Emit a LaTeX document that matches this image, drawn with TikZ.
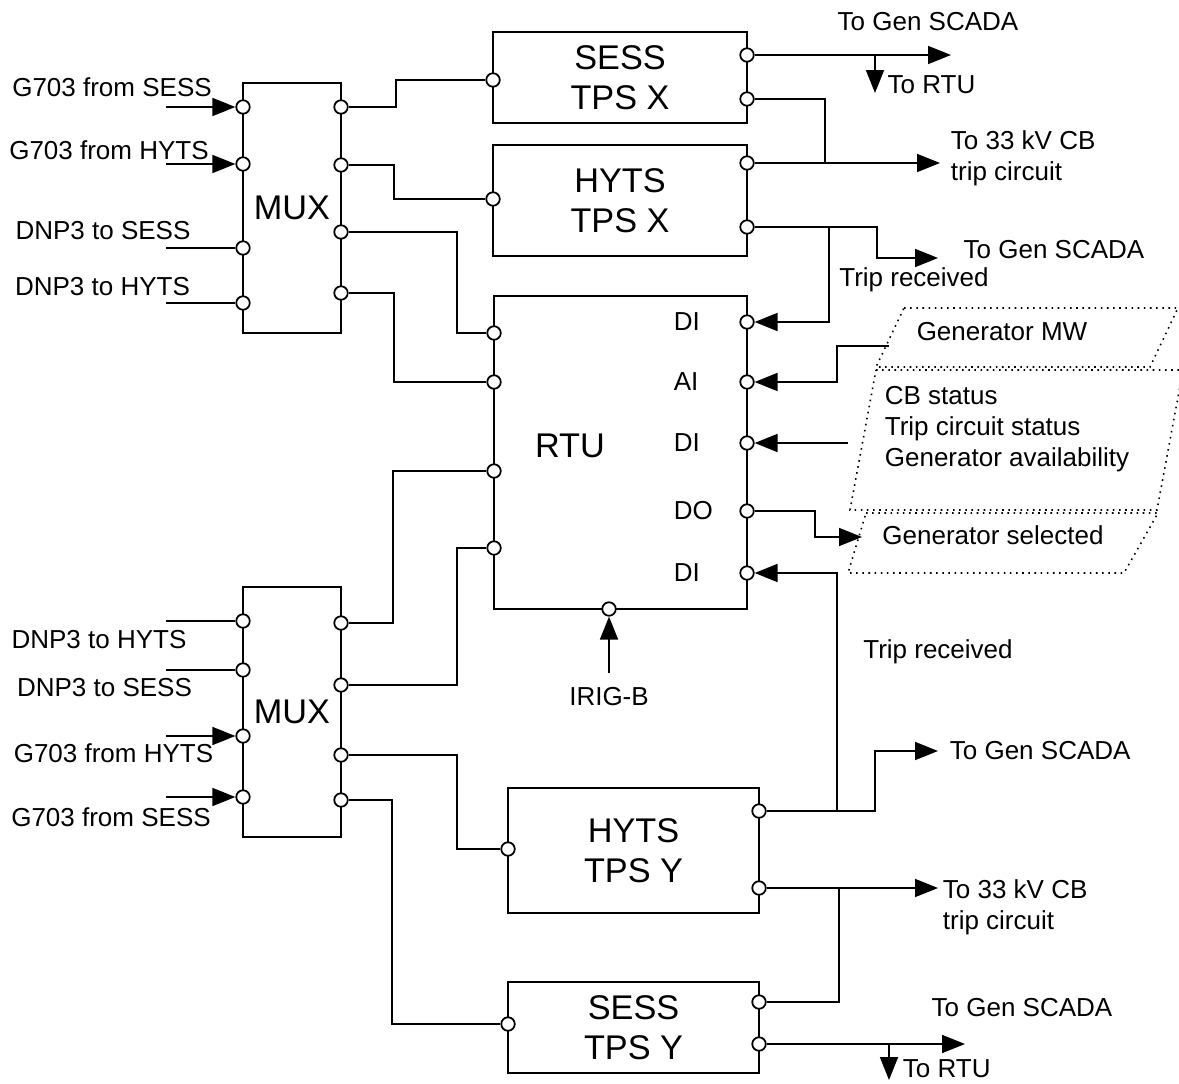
\documentclass[tikz,border=0pt]{standalone}
\usepackage{fontspec}
\setmainfont{Liberation Sans}
\usetikzlibrary{arrows.meta}

\newcommand{\lblfont}{\fontsize{14.8pt}{17.6pt}\selectfont}
\newcommand{\boxfont}{\fontsize{19.5pt}{23pt}\selectfont}

\begin{document}
\begin{tikzpicture}[x=0.02cm, y=-0.02cm, line width=1pt,
    >={Triangle[length=0.46cm, width=0.36cm]},
    every node/.style={font=\lblfont},
    unit/.style={draw, rectangle, inner sep=0pt, font=\boxfont, align=center},
    port/.style={circle, draw, fill=white, inner sep=0pt, minimum size=0.27cm},
    sig/.style={inner sep=0pt},
    infobox/.style={line width=0.9pt, dash pattern=on 0.9pt off 2.6pt}]
	\useasboundingbox (0,0) rectangle (1179,1084);

	% === 设备方框 ===
	\node[unit, minimum width=1.96cm, minimum height=5cm] (muxa) at (292,208) {MUX};
	\node[unit, minimum width=1.96cm, minimum height=5cm] (muxb) at (292,712) {MUX};
	\node[unit, minimum width=5.08cm, minimum height=1.82cm] (tpsxs) at (620,77.5) {SESS\\TPS X};
	\node[unit, minimum width=5.08cm, minimum height=2.22cm] (tpsxh) at (620,200.5) {HYTS\\TPS X};
	\node[unit, minimum width=5.06cm, minimum height=6.26cm] (rtu) at (620.5,452.5) {};
	\node[font=\boxfont] (rtulbl) at (570,446) {RTU};
	\node[unit, minimum width=5.02cm, minimum height=2.5cm] (tpsyh) at (633.5,850.5) {HYTS\\TPS Y};
	\node[unit, minimum width=5.02cm, minimum height=1.82cm] (tpsys) at (633.5,1027.5) {SESS\\TPS Y};

	% 端口 (上 MUX)
	\node[port] (muxa-l1) at (243,107) {};
	\node[port] (muxa-l2) at (243,164) {};
	\node[port] (muxa-l3) at (243,248) {};
	\node[port] (muxa-l4) at (243,303) {};
	\node[port] (muxa-r1) at (341,107) {};
	\node[port] (muxa-r2) at (341,165) {};
	\node[port] (muxa-r3) at (341,232) {};
	\node[port] (muxa-r4) at (341,293) {};
	% 端口 (下 MUX)
	\node[port] (muxb-l1) at (243,621) {};
	\node[port] (muxb-l2) at (243,670) {};
	\node[port] (muxb-l3) at (243,736) {};
	\node[port] (muxb-l4) at (243,797) {};
	\node[port] (muxb-r1) at (341,623) {};
	\node[port] (muxb-r2) at (341,685) {};
	\node[port] (muxb-r3) at (341,755) {};
	\node[port] (muxb-r4) at (341,800) {};
	% 端口 (TPS)
	\node[port] (tpsxs-l) at (493,80) {};
	\node[port] (tpsxs-r1) at (747,55) {};
	\node[port] (tpsxs-r2) at (747,99) {};
	\node[port] (tpsxh-l) at (493,199) {};
	\node[port] (tpsxh-r1) at (747,163) {};
	\node[port] (tpsxh-r2) at (747,227) {};
	\node[port] (tpsyh-l) at (508,849) {};
	\node[port] (tpsyh-r1) at (759,811) {};
	\node[port] (tpsyh-r2) at (759,888) {};
	\node[port] (tpsys-l) at (508,1024) {};
	\node[port] (tpsys-r1) at (759,1002) {};
	\node[port] (tpsys-r2) at (759,1044) {};
	% 端口 (RTU)
	\node[port] (rtu-l1) at (494,333) {};
	\node[port] (rtu-l2) at (494,382) {};
	\node[port] (rtu-l3) at (494,471) {};
	\node[port] (rtu-l4) at (494,548) {};
	\node[port] (rtu-r1) at (747,322) {};
	\node[port] (rtu-r2) at (747,382) {};
	\node[port] (rtu-r3) at (747,443) {};
	\node[port] (rtu-r4) at (747,511) {};
	\node[port] (rtu-r5) at (747,573) {};
	\node[port] (rtu-b) at (609,609) {};
	\node[sig, anchor=west] (rtu-t1) at (673,322) {DI};
	\node[sig, anchor=west] (rtu-t2) at (673,382) {AI};
	\node[sig, anchor=west] (rtu-t3) at (673,443) {DI};
	\node[sig, anchor=west] (rtu-t4) at (673,511) {DO};
	\node[sig, anchor=west] (rtu-t5) at (673,573) {DI};

	% === MUX 输入 ===
	\coordinate (ina1) at (166,107);
	\coordinate (ina2) at (166,164);
	\coordinate (ina3) at (166,248);
	\coordinate (ina4) at (166,303);
	\coordinate (inb1) at (166,621);
	\coordinate (inb2) at (166,670);
	\coordinate (inb3) at (166,736);
	\coordinate (inb4) at (166,797);
	\draw[->] (ina1) -- (muxa-l1);
	\draw[->] (ina2) -- (muxa-l2);
	\draw (ina3) -- (muxa-l3);
	\draw (ina4) -- (muxa-l4);
	\draw (inb1) -- (muxb-l1);
	\draw (inb2) -- (muxb-l2);
	\draw[->] (inb3) -- (muxb-l3);
	\draw[->] (inb4) -- (muxb-l4);
	\node (lbla1) at (112,87) {G703 from SESS};
	\node (lbla2) at (109,150) {G703 from HYTS};
	\node (lbla3) at (103,231) {DNP3 to SESS};
	\node (lbla4) at (102.5,287) {DNP3 to HYTS};
	\node (lblb1) at (99,640) {DNP3 to HYTS};
	\node (lblb2) at (104.5,688) {DNP3 to SESS};
	\node (lblb3) at (113.5,753) {G703 from HYTS};
	\node (lblb4) at (111,817) {G703 from SESS};

	% === MUX 到 TPS / RTU ===
	\draw (muxa-r1) -- ++(55,0) |- (tpsxs-l);
	\draw (muxa-r2) -- ++(53,0) |- (tpsxh-l);
	\draw (muxa-r3) -- ++(116,0) |- (rtu-l1);
	\draw (muxa-r4) -- ++(53,0) |- (rtu-l2);
	\draw (muxb-r1) -- ++(52,0) |- (rtu-l3);
	\draw (muxb-r2) -- ++(116,0) |- (rtu-l4);
	\draw (muxb-r3) -- ++(116,0) |- (tpsyh-l);
	\draw (muxb-r4) -- ++(51,0) |- (tpsys-l);

	% === TPS X 输出 ===
	\coordinate (scx1) at (951,55);
	\coordinate (rtux) at (875,93);
	\draw[->] (tpsxs-r1) -- (scx1);
	\draw[->] (tpsxs-r1 -| rtux) -- (rtux);
	\coordinate (cbx) at (940,163);
	\coordinate (jcbx) at (825,163);
	\draw[->] (tpsxh-r1) -- (cbx);
	\draw (tpsxs-r2) -| (jcbx);
	\coordinate (scx2) at (938,258);
	\coordinate (jtrx) at (829,227);
	\draw[->] (tpsxh-r2) -- ++(130,0) |- (scx2);
	\draw[->] (jtrx) |- (rtu-r1);
	\node (gsx1) at (928,22) {To Gen SCADA};
	\node (trx) at (931.5,85) {To RTU};
	\node[sig, anchor=west, align=left] (tcx) at (950,158) {To 33 kV CB\\trip circuit};
	\node (gsx2) at (1054,250) {To Gen SCADA};
	\node (trcx) at (914,280) {Trip received};

	% === 发电机信号 ===
	\draw[infobox] (904,308) -- (1178,308) -- (1150,367) -- (876,367) -- cycle;
	\draw[infobox] (876,370) -- (1183,370) -- (1157,510) -- (850,510) -- cycle;
	\draw[infobox] (866,513) -- (1158,513) -- (1124,573) -- (848,573) -- cycle;
	\node (genmw) at (1002,332) {Generator MW};
	\node[sig, anchor=west, align=left] (genst) at (884,429) {CB status\\Trip circuit status\\Generator availability};
	\node (gensel) at (993,535) {Generator selected};
	\coordinate (mwin) at (889,346);
	\coordinate (stin) at (848,443);
	\coordinate (selout) at (862,537);
	\draw[->] (mwin) -- ++(-52,0) |- (rtu-r2);
	\draw[->] (stin) -- (rtu-r3);
	\draw[->] (rtu-r4) -- ++(68,0) |- (selout);

	% 时钟
	\coordinate (irig) at (609,673);
	\draw[->] (irig) -- (rtu-b);
	\node (irigl) at (609,697) {IRIG-B};

	% === TPS Y 输出 ===
	\coordinate (scy1) at (938,751);
	\coordinate (jtry) at (837,811);
	\draw[->] (tpsyh-r1) -- ++(116,0) |- (scy1);
	\draw[->] (jtry) |- (rtu-r5);
	\coordinate (cby) at (938,888);
	\coordinate (jcby) at (839,888);
	\draw[->] (tpsyh-r2) -- (cby);
	\draw (jcby) |- (tpsys-r1);
	\coordinate (scy2) at (965,1044);
	\coordinate (rtuy) at (889,1080);
	\draw[->] (tpsys-r2) -- (scy2);
	\draw[->] (tpsys-r2 -| rtuy) -- (rtuy);
	\node (trcy) at (938,652) {Trip received};
	\node[sig, anchor=west] (gsy1) at (949,751) {To Gen SCADA};
	\node[sig, anchor=west, align=left] (tcy) at (942,907) {To 33 kV CB\\trip circuit};
	\node (gsy2) at (1022,1008) {To Gen SCADA};
	\node[sig, anchor=west] (try) at (902,1069) {To RTU};
\end{tikzpicture}
\end{document}
